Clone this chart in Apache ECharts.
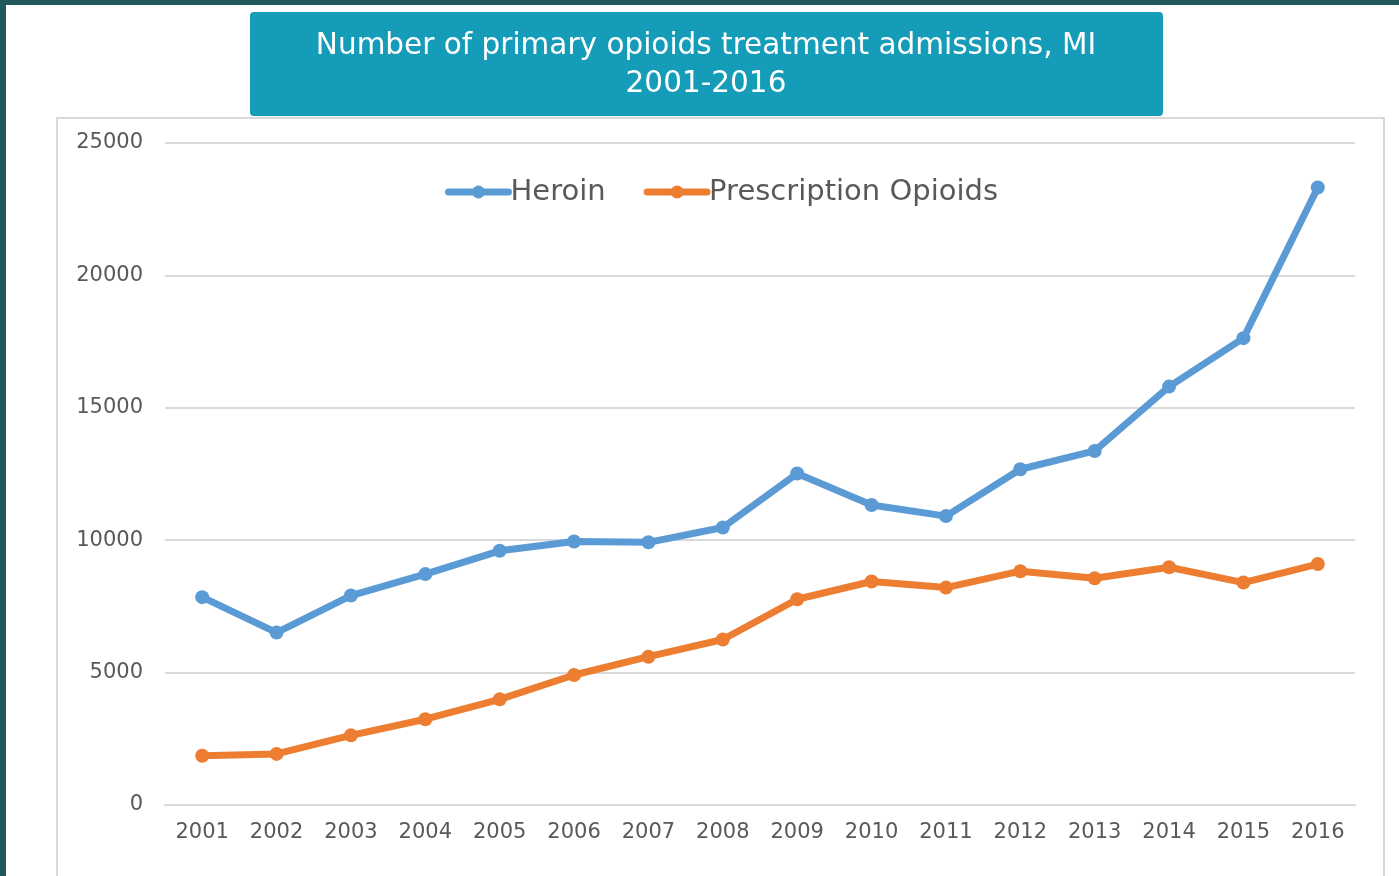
<!DOCTYPE html>
<html>
<head>
<meta charset="utf-8">
<script src="https://cdn.jsdelivr.net/npm/echarts@6/dist/echarts.min.js"></script>
<style>
  html, body { margin: 0; padding: 0; background: #fff; }
  #main { width: 1399px; height: 876px; }
</style>
</head>
<body>
<div id="main"></div>
<script>
// admissions by year
const years = ['2001','2002','2003','2004','2005','2006','2007','2008','2009','2010','2011','2012','2013','2014','2015','2016'];
const heroin = [7850, 6510, 7910, 8720, 9600, 9950, 9920, 10480, 12520, 11330, 10910, 12680, 13370, 15800, 17630, 23320];
const rxOpioids = [1860, 1930, 2630, 3240, 3990, 4910, 5600, 6250, 7770, 8440, 8210, 8830, 8560, 8980, 8400, 9100];
const yTicks = [0, 5000, 10000, 15000, 20000, 25000];

// slide text is a bit stretched sideways, DejaVu is wider than Arial so it fits better
const font = 'DejaVu Sans, Liberation Sans, sans-serif';
const chart = echarts.init(document.getElementById('main'));

function lineSeries(name, data, color) {
    return {
        name: name,
        type: 'line',
        data: data,
        symbol: 'circle',
        symbolSize: 14,
        itemStyle: { color: color },
        lineStyle: { color: color, width: 7 },
        emphasis: { disabled: true }
    };
}

chart.setOption({
    backgroundColor: '#fff',
    animation: false,
    graphic: [
        // dark slide edges
        { type: 'rect', shape: { x: 0, y: 0, width: 6, height: 876 }, style: { fill: '#21585C' }, z: 0 },
        { type: 'rect', shape: { x: 0, y: 0, width: 1399, height: 5 }, style: { fill: '#21585C' }, z: 0 },
        // chart frame
        { type: 'rect', shape: { x: 57, y: 118, width: 1327, height: 800 }, style: { fill: 'none', stroke: '#D9D9D9', lineWidth: 2 }, z: 0 },
        // title box
        { type: 'rect', shape: { x: 250, y: 12, width: 913, height: 104, r: 4 }, style: { fill: '#159CB9' }, z: 0 }
    ],
    title: {
        text: 'Number of primary opioids treatment admissions, MI\n2001-2016',
        left: 706,
        top: 27,
        padding: 0,
        textAlign: 'center',
        textStyle: {
            color: '#fff',
            fontFamily: font,
            fontSize: 29.5,
            fontWeight: 'normal',
            lineHeight: 38
        }
    },
    legend: {
        left: 445,
        top: 177,
        padding: 0,
        itemWidth: 60,
        itemHeight: 16,
        itemGap: 38,
        lineStyle: { width: 7, cap: 'round' },
        textStyle: { color: '#595959', fontFamily: font, fontSize: 29, lineHeight: 30, padding: [0, 0, 0, -3] },
        data: ['Heroin', 'Prescription Opioids']
    },
    grid: { left: 165, right: 44, top: 143, bottom: 71 },
    xAxis: {
        type: 'category',
        data: years,
        boundaryGap: true,
        axisLine: { lineStyle: { color: '#D9D9D9', width: 2 } },
        axisTick: { show: false },
        axisLabel: { color: '#595959', fontFamily: font, fontSize: 21, margin: 17 }
    },
    yAxis: {
        type: 'value',
        min: yTicks[0],
        max: yTicks[yTicks.length - 1],
        interval: yTicks[1] - yTicks[0],
        axisLine: { show: false },
        axisTick: { show: false },
        splitLine: { lineStyle: { color: '#D9D9D9', width: 2 } },
        axisLabel: {
            color: '#595959', fontFamily: font, fontSize: 21, margin: 22,
            padding: [5, 0, 0, 0],
            formatter: function (v) { return String(v); }
        }
    },
    series: [
        lineSeries('Heroin', heroin, '#5B9BD5'),
        lineSeries('Prescription Opioids', rxOpioids, '#ED7D31')
    ]
});
</script>
</body>
</html>
